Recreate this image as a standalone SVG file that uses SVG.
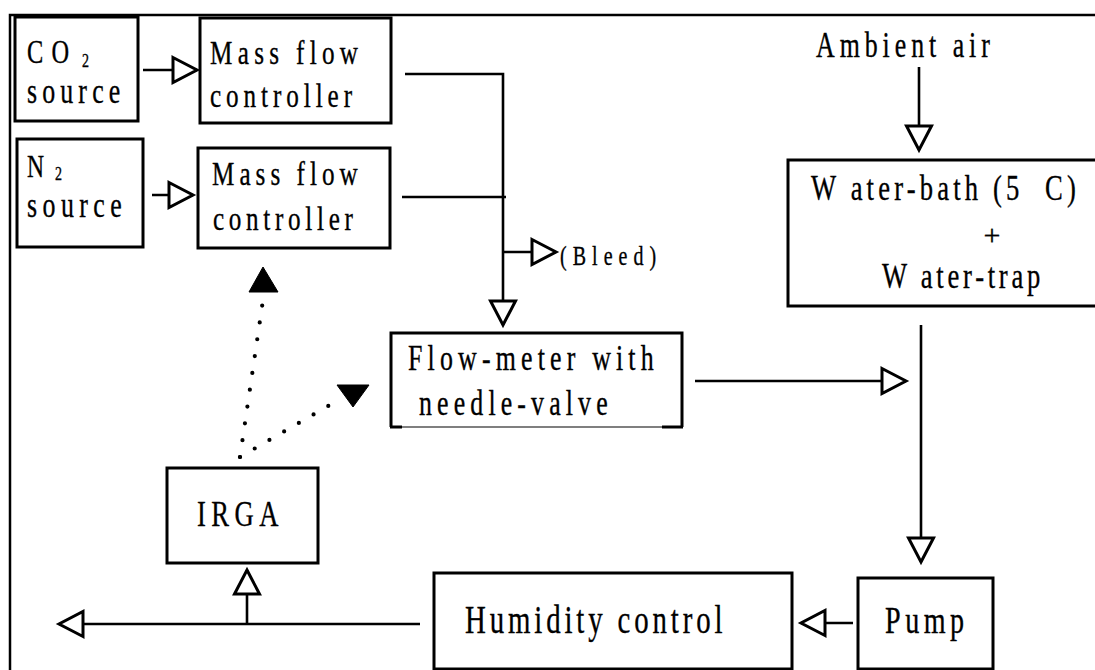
<svg xmlns="http://www.w3.org/2000/svg" width="1095" height="670" viewBox="0 0 1095 670">
<style>
  .box{fill:#fff;stroke:#000;stroke-width:3}
  .t{font-family:"Liberation Serif","Times New Roman",serif;fill:#000;stroke:#000;stroke-width:0.35}
  .ln{fill:none;stroke:#000;stroke-width:2.6}
  .dot{fill:none;stroke:#000;stroke-width:4.2;stroke-linecap:round;stroke-dasharray:0 17}
  .fill{fill:#000;stroke:#000;stroke-width:1}
</style>
<defs>
  <marker id="open" markerUnits="userSpaceOnUse" markerWidth="30" markerHeight="30" viewBox="-2 -2 30 30" refX="24" refY="12.5" orient="auto" overflow="visible">
    <path d="M0,0 L24,12.5 L0,25 Z" fill="#fff" stroke="#000" stroke-width="3" stroke-linejoin="miter"/>
  </marker>
</defs>
<rect width="1095" height="670" fill="#fff"/>
<path d="M10,670 L10,15 L1095,15" fill="none" stroke="#000" stroke-width="2.5"/>

<g id="connectors">
  <line class="ln" x1="143" y1="70" x2="197" y2="70" marker-end="url(#open)"/>
  <line class="ln" x1="152" y1="195" x2="193" y2="195" marker-end="url(#open)"/>
  <polyline class="ln" points="405,74 503,74 503,325" marker-end="url(#open)"/>
  <line class="ln" x1="402" y1="197" x2="506" y2="197"/>
  <line class="ln" x1="503" y1="252" x2="556" y2="252" marker-end="url(#open)"/>
  <line class="ln" x1="695" y1="381" x2="906" y2="381" marker-end="url(#open)"/>
  <line class="ln" x1="919" y1="67" x2="919" y2="150" marker-end="url(#open)"/>
  <line class="ln" x1="921" y1="325" x2="921" y2="562" marker-end="url(#open)"/>
  <line class="ln" x1="853" y1="623" x2="801" y2="623" marker-end="url(#open)"/>
  <line class="ln" x1="420" y1="624" x2="59" y2="624" marker-end="url(#open)"/>
  <line class="ln" x1="247" y1="624" x2="247" y2="570" marker-end="url(#open)"/>
  <line class="dot" x1="240" y1="457" x2="263" y2="300"/>
  <line class="dot" x1="240" y1="457" x2="335" y2="402"/>
  <polygon class="fill" points="263,267 249,292 278,292"/>
  <polygon class="fill" points="337,385 369,385 353,407"/>
</g>

<g id="co2">
  <rect class="box" x="15" y="17" width="123" height="104"/>
  <text class="t" transform="translate(27,63) scale(0.74,1)" font-size="33" textLength="57" lengthAdjust="spacing">CO</text>
  <text class="t" transform="translate(82,67) scale(0.74,1)" font-size="19">2</text>
  <text class="t" transform="translate(27,103) scale(0.74,1)" font-size="35" textLength="126" lengthAdjust="spacing">source</text>
</g>
<g id="mfc1">
  <rect class="box" x="200" y="18" width="191" height="105"/>
  <text class="t" transform="translate(210,64) scale(0.74,1)" font-size="34" textLength="200" lengthAdjust="spacing">Mass flow</text>
  <text class="t" transform="translate(210,107) scale(0.74,1)" font-size="34" textLength="192" lengthAdjust="spacing">controller</text>
</g>
<g id="n2">
  <rect class="box" x="17" y="139" width="126" height="108"/>
  <text class="t" transform="translate(27,177) scale(0.74,1)" font-size="32">N</text>
  <text class="t" transform="translate(55,180) scale(0.74,1)" font-size="19">2</text>
  <text class="t" transform="translate(27,217) scale(0.74,1)" font-size="35" textLength="128" lengthAdjust="spacing">source</text>
</g>
<g id="mfc2">
  <rect class="box" x="198" y="148" width="192" height="100"/>
  <text class="t" transform="translate(212,185) scale(0.74,1)" font-size="34" textLength="197" lengthAdjust="spacing">Mass flow</text>
  <text class="t" transform="translate(213,230) scale(0.74,1)" font-size="34" textLength="189" lengthAdjust="spacing">controller</text>
</g>
<g id="bleed">
  <text class="t" transform="translate(560,265) scale(0.74,1)" font-size="27" textLength="130" lengthAdjust="spacing">(Bleed)</text>
</g>
<g id="ambient">
  <text class="t" transform="translate(816,57) scale(0.74,1)" font-size="35" textLength="235" lengthAdjust="spacing">Ambient air</text>
</g>
<g id="waterbath">
  <rect class="box" x="788" y="160" width="320" height="146"/>
  <text class="t" transform="translate(811,200) scale(0.74,1)" font-size="36" textLength="358" lengthAdjust="spacing">W ater-bath (5&#160; C)</text>
  <text class="t" x="992" y="245" font-size="30" text-anchor="middle">+</text>
  <text class="t" transform="translate(882,288) scale(0.74,1)" font-size="36" textLength="214" lengthAdjust="spacing">W ater-trap</text>
</g>
<g id="flowmeter">
  <path d="M391,427 L391,333 L682,333 L682,427" fill="#fff" stroke="#000" stroke-width="3"/>
  <line x1="391" y1="427" x2="682" y2="427" stroke="#555" stroke-width="1.6"/>
  <line x1="390" y1="427" x2="402" y2="427" stroke="#000" stroke-width="3"/>
  <line x1="662" y1="427" x2="683" y2="427" stroke="#000" stroke-width="3"/>
  <text class="t" transform="translate(408,370) scale(0.74,1)" font-size="35" textLength="332" lengthAdjust="spacing">Flow-meter with</text>
  <text class="t" transform="translate(419,415) scale(0.74,1)" font-size="35" textLength="255" lengthAdjust="spacing">needle-valve</text>
</g>
<g id="irga">
  <rect class="box" x="167" y="468" width="151" height="95"/>
  <text class="t" transform="translate(197,526) scale(0.74,1)" font-size="36" textLength="110" lengthAdjust="spacing">IRGA</text>
</g>
<g id="humidity">
  <rect class="box" x="434" y="573" width="358" height="96"/>
  <text class="t" transform="translate(465,633) scale(0.74,1)" font-size="39" textLength="348" lengthAdjust="spacing">Humidity control</text>
</g>
<g id="pump">
  <rect class="box" x="858" y="578" width="135" height="91"/>
  <text class="t" transform="translate(885,633) scale(0.74,1)" font-size="38" textLength="107" lengthAdjust="spacing">Pump</text>
</g>
</svg>
